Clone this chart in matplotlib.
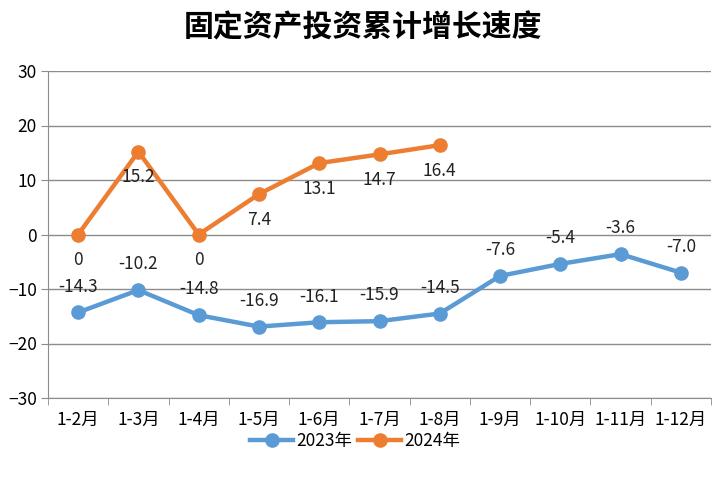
import matplotlib
matplotlib.use("Agg")
import matplotlib.pyplot as plt
import numpy as np

plt.rcParams['font.family'] = ['Noto Sans CJK SC', 'DejaVu Sans']

categories = ["1-2月", "1-3月", "1-4月", "1-5月", "1-6月", "1-7月", "1-8月",
              "1-9月", "1-10月", "1-11月", "1-12月"]
s2023 = [-14.3, -10.2, -14.8, -16.9, -16.1, -15.9, -14.5, -7.6, -5.4, -3.6, -7.0]
s2024 = [0, 15.2, 0, 7.4, 13.1, 14.7, 16.4]
labels2023 = ["-14.3", "-10.2", "-14.8", "-16.9", "-16.1", "-15.9", "-14.5", "-7.6", "-5.4", "-3.6", "-7.0"]
labels2024 = ["0", "15.2", "0", "7.4", "13.1", "14.7", "16.4"]

c23 = "#5B9BD5"
c24 = "#ED7D31"

fig = plt.figure(figsize=(7.25, 4.84), dpi=100)
ax = fig.add_axes([48/725, 1-398/484, (711-48)/725, (398-71)/484])

x = np.arange(len(categories))
x24 = np.arange(len(s2024))
ax.plot(x, s2023, color=c23, lw=3.2, marker='o', ms=9.5, label="2023年", zorder=3)
ax.plot(x24, s2024, color=c24, lw=3.2, marker='o', ms=9.5, label="2024年", zorder=3)

for xi, v, t in zip(x, s2023, labels2023):
    ax.annotate(t, (xi, v), xytext=(0, 12), textcoords='offset points',
                ha='center', va='bottom', fontsize=12.5, color='#222222', zorder=4)
for xi, v, t in zip(x24, s2024, labels2024):
    ax.annotate(t, (xi, v), xytext=(0, -12), textcoords='offset points',
                ha='center', va='top', fontsize=12.5, color='#222222', zorder=4)

ax.set_xlim(-0.5, len(categories) - 0.5)
ax.set_ylim(-30, 30)
ax.set_yticks(np.arange(-30, 31, 10))
ax.yaxis.grid(True, color='#8c8c8c', lw=1)
ax.set_axisbelow(True)

ax.set_xticks(x)
ax.set_xticklabels(categories, fontsize=12.5)
ax.set_xticks(np.arange(-0.5, len(categories), 1), minor=True)
ax.tick_params(axis='x', which='major', length=0, pad=9)
ax.tick_params(axis='x', which='minor', length=5, color='#8c8c8c')
ax.tick_params(axis='y', length=5, color='#8c8c8c', labelsize=12.5, pad=3)

for s in ['top', 'right']:
    ax.spines[s].set_visible(False)
for s in ['left', 'bottom']:
    ax.spines[s].set_color('#8c8c8c')

fig.text(0.5, 1-28/484, "固定资产投资累计增长速度", ha='center', va='center',
         fontsize=21.5, fontweight='heavy')

leg = fig.legend(loc='center', bbox_to_anchor=(0.49, 1-441/484), ncol=2, frameon=False,
                 fontsize=12.5, handlelength=2.5, columnspacing=0.3, handletextpad=0.2)

fig.savefig("out.png", dpi=100)
